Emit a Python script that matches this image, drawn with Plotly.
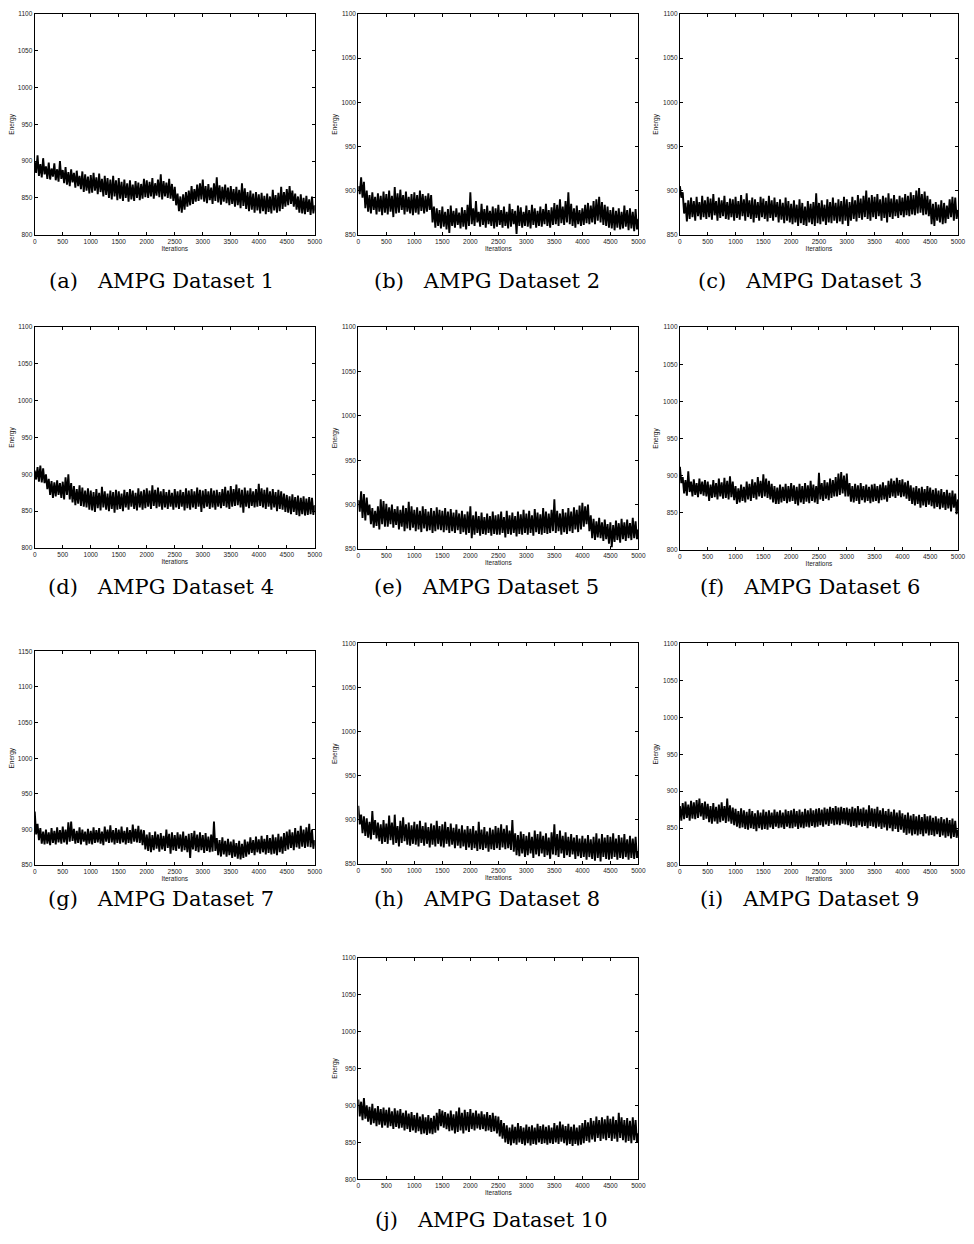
import plotly.graph_objects as go

iterations = list(range(0, 5001, 25))

energy_1 = [
    900, 884, 908, 880, 896, 878, 904, 882, 893, 876, 898, 875, 890, 879, 897, 874, 889, 872, 900, 876,
    888, 870, 892, 868, 885, 866, 889, 871, 884, 864, 887, 866, 880, 862, 886, 858, 882, 860, 879, 856,
    881, 857, 884, 860, 878, 855, 883, 858, 876, 852, 880, 854, 877, 850, 875, 848, 880, 852, 874, 847,
    877, 849, 872, 846, 875, 850, 870, 845, 874, 848, 868, 846, 873, 850, 871, 847, 869, 849, 876, 851,
    874, 850, 872, 852, 877, 849, 870, 853, 875, 851, 882, 848, 873, 852, 871, 850, 876, 849, 869, 846,
    865, 840, 856, 832, 852, 830, 855, 834, 858, 838, 860, 840, 866, 842, 862, 845, 868, 846, 870, 848,
    875, 845, 866, 843, 869, 847, 864, 842, 870, 846, 878, 844, 867, 841, 865, 845, 868, 843, 864, 840,
    866, 842, 862, 838, 865, 840, 861, 836, 870, 839, 863, 835, 858, 832, 860, 834, 856, 830, 858, 833,
    855, 829, 857, 832, 853, 828, 856, 831, 852, 829, 861, 833, 854, 830, 857, 832, 865, 835, 858, 838,
    862, 840, 866, 842, 860, 838, 856, 834, 852, 830, 855, 829, 850, 828, 853, 831, 848, 827, 852, 829,
    840]

energy_2 = [
    905, 896, 915, 892, 910, 880, 900, 876, 895, 874, 898, 878, 893, 873, 897, 876, 894, 872, 899, 875,
    896, 873, 900, 876, 894, 870, 904, 874, 897, 875, 901, 878, 895, 873, 899, 876, 893, 874, 896, 872,
    898, 875, 895, 873, 900, 877, 896, 874, 894, 876, 897, 878, 895, 864, 882, 858, 880, 860, 878, 857,
    882, 859, 876, 856, 879, 852, 883, 860, 877, 858, 880, 861, 875, 857, 881, 859, 878, 856, 884, 860,
    898, 862, 880, 860, 888, 864, 876, 859, 885, 861, 879, 858, 883, 862, 877, 860, 882, 857, 880, 859,
    884, 861, 878, 858, 882, 860, 876, 857, 885, 859, 879, 862, 877, 851, 883, 860, 881, 858, 876, 860,
    883, 859, 878, 857, 884, 861, 880, 858, 877, 860, 882, 859, 879, 862, 885, 860, 878, 858, 881, 861,
    886, 862, 884, 860, 890, 863, 882, 861, 888, 864, 898, 862, 885, 860, 880, 858, 883, 862, 878, 860,
    880, 861, 884, 863, 886, 862, 883, 864, 888, 862, 890, 866, 893, 864, 887, 861, 884, 860, 882, 858,
    878, 857, 881, 855, 877, 858, 880, 856, 876, 857, 883, 859, 878, 855, 880, 857, 876, 854, 879, 856,
    868]

energy_3 = [
    905, 892, 898, 874, 886, 865, 889, 868, 892, 870, 888, 866, 893, 871, 887, 867, 894, 870, 889, 868,
    893, 870, 891, 867, 896, 872, 888, 866, 892, 869, 889, 871, 894, 868, 887, 867, 891, 870, 890, 866,
    893, 869, 888, 867, 895, 871, 890, 866, 897, 870, 889, 868, 892, 864, 890, 869, 887, 866, 893, 870,
    891, 868, 888, 865, 894, 869, 889, 866, 892, 870, 887, 864, 890, 867, 886, 863, 892, 866, 888, 864,
    885, 862, 889, 864, 884, 860, 890, 863, 886, 861, 882, 860, 888, 864, 885, 862, 887, 860, 897, 863,
    886, 862, 889, 865, 884, 861, 890, 864, 887, 863, 892, 866, 886, 863, 890, 865, 888, 862, 893, 866,
    890, 860, 887, 866, 893, 868, 889, 865, 895, 869, 891, 867, 894, 870, 900, 868, 892, 866, 895, 870,
    893, 868, 896, 871, 890, 866, 894, 869, 892, 864, 897, 870, 891, 868, 895, 871, 890, 869, 894, 872,
    892, 870, 896, 872, 894, 871, 898, 873, 895, 872, 900, 874, 903, 875, 896, 872, 899, 873, 894, 871,
    890, 862, 885, 860, 887, 866, 884, 864, 889, 862, 886, 863, 883, 868, 890, 870, 893, 866, 892, 868,
    878]

energy_4 = [
    905, 893, 910, 890, 912, 889, 908, 888, 900, 880, 894, 872, 891, 868, 889, 870, 892, 872, 888, 868,
    890, 866, 896, 872, 900, 866, 888, 862, 884, 858, 880, 860, 885, 857, 882, 856, 878, 855, 881, 852,
    878, 851, 876, 849, 880, 854, 875, 851, 883, 855, 877, 852, 874, 850, 878, 853, 876, 848, 879, 852,
    877, 853, 874, 850, 879, 855, 876, 852, 880, 856, 878, 853, 875, 851, 881, 855, 877, 852, 879, 854,
    881, 856, 878, 853, 885, 857, 879, 854, 882, 856, 877, 852, 880, 855, 876, 853, 879, 856, 875, 852,
    880, 855, 877, 853, 879, 856, 876, 851, 881, 854, 878, 852, 880, 855, 877, 853, 882, 856, 879, 849,
    878, 854, 880, 856, 877, 853, 881, 855, 878, 852, 879, 856, 876, 854, 880, 857, 883, 855, 878, 853,
    884, 856, 880, 857, 886, 858, 881, 855, 879, 848, 882, 856, 878, 854, 881, 857, 877, 855, 880, 856,
    887, 857, 881, 855, 879, 853, 882, 856, 877, 852, 880, 855, 876, 850, 879, 853, 877, 852, 874, 849,
    872, 848, 870, 846, 873, 849, 869, 845, 871, 843, 868, 846, 870, 844, 867, 845, 869, 846, 868, 845,
    858]

energy_5 = [
    905, 892, 915, 885, 912, 882, 908, 888, 900, 878, 896, 874, 893, 876, 898, 872, 906, 878, 904, 875,
    901, 875, 897, 878, 900, 874, 895, 877, 898, 872, 894, 875, 899, 870, 896, 873, 903, 871, 898, 874,
    894, 870, 897, 872, 893, 869, 898, 873, 895, 870, 892, 871, 896, 868, 893, 870, 897, 872, 894, 871,
    893, 869, 896, 871, 892, 868, 895, 870, 891, 868, 894, 871, 890, 867, 893, 869, 889, 866, 892, 868,
    898, 862, 888, 866, 892, 868, 887, 865, 891, 867, 886, 866, 890, 868, 887, 865, 892, 867, 888, 866,
    889, 866, 892, 868, 886, 863, 893, 867, 888, 866, 891, 868, 887, 864, 892, 867, 889, 866, 894, 868,
    890, 866, 893, 868, 888, 865, 895, 869, 891, 867, 889, 866, 896, 868, 892, 867, 890, 868, 894, 870,
    906, 868, 893, 870, 890, 866, 895, 869, 891, 867, 896, 870, 892, 868, 897, 872, 894, 869, 899, 872,
    902, 875, 898, 878, 900, 870, 888, 862, 884, 860, 881, 863, 885, 862, 880, 859, 883, 861, 878, 856,
    880, 852, 877, 858, 882, 860, 879, 857, 884, 861, 880, 859, 883, 862, 879, 860, 885, 862, 881, 861,
    872]

energy_6 = [
    912, 890, 898, 876, 894, 873, 906, 878, 892, 872, 895, 874, 890, 871, 896, 875, 892, 873, 894, 872,
    892, 866, 888, 870, 894, 871, 890, 868, 896, 872, 891, 869, 897, 870, 893, 868, 899, 871, 892, 867,
    886, 862, 883, 864, 888, 866, 885, 864, 892, 868, 889, 866, 895, 870, 891, 868, 898, 872, 893, 870,
    902, 872, 896, 870, 893, 868, 889, 864, 886, 862, 884, 862, 888, 864, 885, 866, 889, 863, 886, 865,
    890, 866, 887, 862, 885, 860, 889, 864, 886, 862, 890, 865, 887, 863, 893, 866, 888, 864, 886, 862,
    904, 868, 890, 866, 894, 869, 891, 867, 896, 870, 894, 872, 898, 872, 903, 874, 905, 876, 900, 872,
    903, 872, 890, 865, 886, 864, 889, 866, 887, 862, 890, 867, 886, 864, 888, 866, 885, 863, 888, 865,
    889, 866, 886, 863, 888, 867, 891, 868, 887, 865, 893, 870, 896, 872, 893, 870, 897, 873, 894, 871,
    895, 872, 891, 869, 893, 866, 887, 862, 884, 860, 886, 862, 883, 857, 885, 860, 882, 858, 886, 861,
    884, 859, 881, 856, 883, 858, 880, 855, 882, 857, 878, 854, 881, 856, 877, 852, 880, 857, 876, 848,
    868]

energy_7 = [
    925, 893, 908, 885, 902, 880, 897, 879, 900, 880, 896, 878, 902, 881, 898, 879, 903, 882, 899, 880,
    904, 882, 900, 879, 910, 883, 911, 884, 901, 880, 898, 881, 903, 879, 900, 883, 897, 878, 901, 880,
    898, 879, 903, 881, 899, 882, 902, 880, 897, 878, 904, 883, 900, 881, 906, 882, 899, 879, 902, 881,
    900, 880, 904, 882, 898, 879, 903, 881, 899, 880, 907, 883, 901, 882, 905, 881, 900, 878, 899, 872,
    893, 870, 896, 868, 892, 871, 897, 873, 893, 869, 895, 872, 891, 870, 900, 874, 894, 866, 896, 871,
    892, 870, 896, 873, 893, 869, 897, 871, 891, 868, 894, 860, 895, 872, 898, 870, 893, 868, 896, 871,
    892, 867, 895, 870, 890, 868, 893, 869, 911, 870, 888, 864, 885, 862, 889, 865, 884, 862, 887, 864,
    883, 860, 886, 862, 881, 859, 884, 858, 880, 860, 886, 862, 883, 865, 889, 867, 885, 864, 890, 868,
    886, 866, 891, 868, 887, 865, 892, 867, 888, 865, 893, 866, 889, 864, 894, 868, 890, 866, 895, 870,
    897, 872, 900, 874, 896, 871, 902, 875, 898, 873, 905, 876, 900, 874, 903, 876, 908, 875, 900, 873,
    885]

energy_8 = [
    916, 895, 906, 885, 904, 882, 902, 880, 898, 878, 910, 883, 900, 879, 897, 876, 895, 873, 900, 875,
    896, 873, 905, 877, 897, 872, 906, 874, 893, 870, 899, 874, 903, 876, 895, 872, 897, 871, 894, 873,
    898, 872, 895, 870, 899, 874, 893, 871, 897, 873, 892, 869, 896, 872, 894, 870, 899, 873, 893, 870,
    895, 869, 898, 873, 892, 870, 896, 872, 891, 868, 895, 871, 890, 868, 894, 870, 889, 866, 893, 869,
    890, 866, 893, 868, 888, 865, 898, 867, 889, 866, 892, 868, 887, 864, 891, 867, 889, 866, 893, 868,
    891, 866, 895, 869, 890, 867, 894, 868, 888, 866, 900, 864, 885, 860, 883, 859, 887, 862, 884, 858,
    882, 860, 886, 862, 881, 857, 888, 861, 884, 859, 887, 862, 882, 858, 885, 860, 880, 856, 886, 861,
    895, 860, 884, 858, 888, 862, 882, 857, 886, 860, 881, 858, 884, 861, 880, 856, 883, 859, 879, 857,
    882, 858, 879, 855, 883, 858, 878, 856, 881, 854, 885, 857, 879, 853, 884, 858, 880, 856, 883, 855,
    881, 856, 885, 858, 879, 855, 883, 857, 880, 856, 884, 858, 878, 855, 882, 857, 879, 856, 881, 857,
    865]

energy_9 = [
    880, 860, 884, 862, 886, 864, 882, 860, 887, 863, 885, 862, 888, 864, 890, 866, 884, 861, 886, 863,
    883, 858, 880, 856, 884, 859, 879, 856, 882, 858, 885, 860, 880, 857, 890, 859, 881, 856, 878, 854,
    876, 852, 873, 850, 877, 851, 874, 849, 872, 848, 876, 850, 873, 849, 870, 846, 874, 850, 871, 848,
    875, 849, 872, 848, 874, 851, 871, 849, 875, 852, 872, 850, 874, 851, 871, 849, 875, 852, 873, 850,
    874, 850, 876, 852, 873, 849, 875, 851, 872, 850, 876, 852, 874, 851, 877, 853, 874, 851, 876, 852,
    877, 854, 875, 852, 878, 855, 876, 853, 879, 856, 877, 854, 880, 855, 878, 854, 879, 856, 877, 855,
    878, 854, 876, 852, 879, 853, 877, 851, 880, 854, 876, 852, 878, 853, 875, 850, 881, 853, 877, 852,
    876, 850, 879, 852, 874, 849, 877, 851, 873, 847, 876, 850, 872, 846, 875, 849, 871, 845, 874, 848,
    870, 844, 868, 841, 871, 843, 867, 840, 869, 842, 866, 840, 868, 842, 865, 839, 869, 843, 866, 840,
    867, 841, 864, 839, 866, 842, 863, 838, 865, 840, 862, 837, 864, 839, 861, 836, 863, 838, 860, 837,
    848]

energy_10 = [
    908, 885, 905, 880, 910, 882, 900, 878, 898, 874, 902, 876, 896, 872, 899, 874, 895, 870, 897, 873,
    894, 870, 897, 872, 892, 868, 896, 871, 893, 869, 895, 870, 890, 866, 893, 868, 889, 864, 891, 866,
    887, 863, 890, 865, 885, 861, 888, 862, 884, 860, 887, 862, 883, 861, 886, 863, 890, 866, 895, 872,
    893, 870, 891, 868, 889, 865, 893, 866, 888, 862, 892, 864, 897, 866, 890, 862, 894, 866, 891, 864,
    895, 868, 890, 866, 893, 869, 889, 867, 892, 868, 888, 865, 891, 866, 887, 864, 890, 865, 886, 862,
    885, 858, 880, 855, 876, 850, 873, 848, 870, 846, 874, 849, 871, 847, 876, 850, 872, 848, 870, 846,
    874, 849, 871, 846, 873, 848, 870, 847, 875, 850, 872, 848, 874, 849, 871, 847, 873, 849, 870, 848,
    876, 850, 873, 848, 878, 851, 874, 849, 872, 846, 875, 848, 871, 845, 874, 848, 870, 846, 873, 847,
    876, 849, 880, 852, 877, 850, 883, 854, 879, 851, 885, 856, 880, 852, 884, 855, 881, 853, 886, 856,
    882, 852, 885, 855, 880, 851, 890, 856, 884, 853, 880, 850, 883, 852, 879, 849, 884, 853, 880, 850,
    862]

series = [energy_1, energy_2, energy_3, energy_4, energy_5,
          energy_6, energy_7, energy_8, energy_9, energy_10]

captions = ["(a)", "(b)", "(c)", "(d)", "(e)", "(f)", "(g)", "(h)", "(i)", "(j)"]
caption_names = ["AMPG Dataset 1", "AMPG Dataset 2", "AMPG Dataset 3", "AMPG Dataset 4",
                 "AMPG Dataset 5", "AMPG Dataset 6", "AMPG Dataset 7", "AMPG Dataset 8",
                 "AMPG Dataset 9", "AMPG Dataset 10"]

y_ranges = [(800, 1100), (850, 1100), (850, 1100),
            (800, 1100), (850, 1100), (800, 1100),
            (850, 1150), (850, 1100), (800, 1100),
            (800, 1100)]

x_tick_vals = list(range(0, 5001, 500))
x_tick_text = ["0", "500", "1000", "1500", "2000", "2500", "3000", "3500", "4000", "4500", "5000"]

# The HTML body has an 8px margin: the figure is 16px smaller than the page
# and every reference pixel position is shifted by 8.
PAD = 8
W, H = 974 - 2 * PAD, 1244 - 2 * PAD

# panel boxes in reference-page pixels: left, right, top, bottom
boxes = [
    (33, 316, 10, 232), (360, 643, 10, 232), (685, 966, 10, 232),
    (33, 316, 325, 547), (360, 643, 325, 548), (685, 966, 325, 549),
    (33, 316, 651, 866), (360, 643, 643, 865), (685, 966, 643, 866),
    (360, 643, 959, 1182),
]
caption_x = [161, 490, 816, 161, 490, 816, 161, 490, 816, 495]
caption_y = [279, 279, 279, 586, 586, 586, 900, 900, 900, 1223]


def fx(px):
    return (px - PAD) / W


def fy(py):
    return 1 - (py - PAD) / H


fig = go.Figure()
layout = dict(
    width=W, height=H, margin=dict(l=0, r=0, t=0, b=0, pad=0),
    paper_bgcolor="white", plot_bgcolor="white", showlegend=False,
    font=dict(family="Liberation Sans, Arial, sans-serif", size=6.5, color="#222"),
)
annotations = []
tick_font = dict(family="Liberation Sans, Arial, sans-serif", size=6.5, color="#222")

for i, (vals, box, yr) in enumerate(zip(series, boxes, y_ranges)):
    n = i + 1
    xa = "x" if n == 1 else f"x{n}"
    ya = "y" if n == 1 else f"y{n}"
    fig.add_trace(go.Scatter(x=iterations, y=vals, mode="lines",
                             line=dict(color="black", width=1.9, simplify=False),
                             xaxis=xa, yaxis=ya, hoverinfo="skip"))
    l, r, t, b = box
    xkey = "xaxis" if n == 1 else f"xaxis{n}"
    ykey = "yaxis" if n == 1 else f"yaxis{n}"
    layout[xkey] = dict(
        domain=[fx(l), min(fx(r), 1.0)], anchor=ya, range=[0, 5000],
        tickvals=x_tick_vals, ticktext=x_tick_text,
        ticks="inside", ticklen=3, tickcolor="black", tickwidth=1,
        showline=True, linecolor="black", linewidth=1.2, mirror="allticks",
        showgrid=False, zeroline=False, tickfont=tick_font,
        title=dict(text="Iterations", font=tick_font, standoff=1),
    )
    ytv = list(range(yr[0], yr[1] + 1, 50))
    layout[ykey] = dict(
        domain=[fy(b), fy(t)], anchor=xa, range=list(yr),
        tickvals=ytv, ticktext=[str(v) for v in ytv],
        ticks="inside", ticklen=3, tickcolor="black", tickwidth=1,
        showline=True, linecolor="black", linewidth=1.2, mirror="allticks",
        showgrid=False, zeroline=False, tickfont=tick_font,
        title=dict(text="Energy", font=tick_font, standoff=3),
    )
    annotations.append(dict(
        text=f"{captions[i]}\u00a0\u00a0 {caption_names[i]}",
        x=fx(caption_x[i]), y=fy(caption_y[i]), xref="paper", yref="paper",
        xanchor="center", yanchor="middle", showarrow=False,
        font=dict(family="DejaVu Serif, serif", size=21, color="black"),
    ))

layout["annotations"] = annotations
fig.update_layout(**layout)
fig.write_html("out.html")
